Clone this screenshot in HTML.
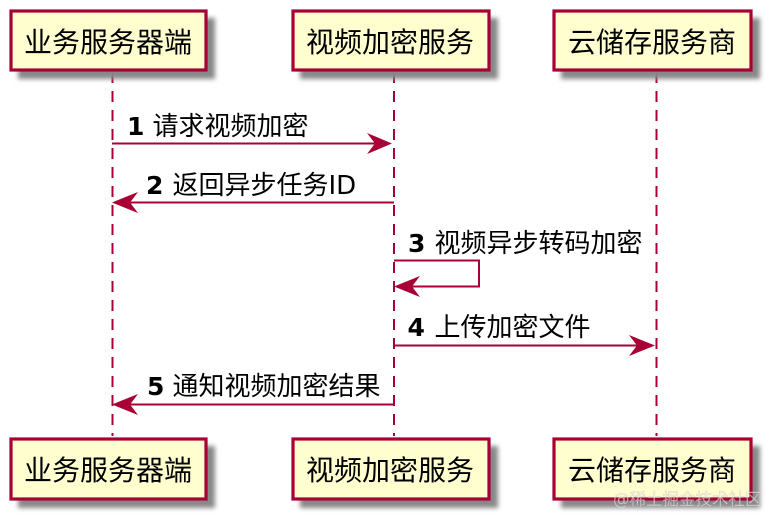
<!DOCTYPE html>
<html>
<head>
<meta charset="utf-8">
<style>
html,body{margin:0;padding:0;background:#fff;width:776px;height:525px;overflow:hidden}
svg{display:block;filter:blur(.35px)}
text{font-family:"DejaVu Sans","WenQuanYi Zen Hei","Noto Sans CJK SC",sans-serif;fill:#000}
.b{font-size:28px;text-anchor:middle}
.m{font-size:26px}
.n{font-size:25px;font-weight:bold}
</style>
</head>
<body>
<svg width="776" height="525" viewBox="0 0 776 525" xmlns="http://www.w3.org/2000/svg">
<defs><filter id="s" x="-20%" y="-40%" width="140%" height="180%"><feGaussianBlur stdDeviation="2.5"/></filter></defs>
<g stroke="#a80036" stroke-width="2" stroke-dasharray="11,8" fill="none">
<line x1="112.5" y1="72" x2="112.5" y2="436"/>
<line x1="394" y1="72" x2="394" y2="436"/>
<line x1="656.5" y1="72" x2="656.5" y2="436"/>
</g>
<g fill="#888" filter="url(#s)">
<rect x="18" y="18" width="197" height="61"/>
<rect x="300" y="18" width="198" height="61"/>
<rect x="561" y="18" width="199" height="61"/>
<rect x="18" y="446" width="197" height="62"/>
<rect x="300" y="446" width="198" height="62"/>
<rect x="561" y="446" width="199" height="62"/>
</g>
<g fill="#fefece" stroke="#a80036" stroke-width="3.2">
<rect x="11" y="11" width="195" height="59"/>
<rect x="293" y="11" width="196" height="59"/>
<rect x="554" y="11" width="197" height="59"/>
<rect x="11" y="439" width="195" height="60"/>
<rect x="293" y="439" width="196" height="60"/>
<rect x="554" y="439" width="197" height="60"/>
</g>
<text class="b" x="108" y="52">业务服务器端</text>
<text class="b" x="390" y="52">视频加密服务</text>
<text class="b" x="652" y="52">云储存服务商</text>
<text class="b" x="108" y="480">业务服务器端</text>
<text class="b" x="390" y="480">视频加密服务</text>
<text class="b" x="652" y="480">云储存服务商</text>
<g stroke="#a80036" stroke-width="2" fill="none">
<line x1="112" y1="143.5" x2="385" y2="143.5"/>
<line x1="122" y1="202.5" x2="394" y2="202.5"/>
<polyline points="394,260.5 479,260.5 479,286.5 404,286.5"/>
<line x1="394" y1="345.5" x2="646" y2="345.5"/>
<line x1="122" y1="404.5" x2="394" y2="404.5"/>
</g>
<g fill="#a80036">
<polygon points="392,143.5 367,133 375,143.5 367,154"/>
<polygon points="112,202.5 138,192 130,202.5 138,213"/>
<polygon points="394,286.5 420,276 412,286.5 420,297"/>
<polygon points="655,345.5 629,335 637,345.5 629,356"/>
<polygon points="112,404.5 138,394 130,404.5 138,415"/>
</g>
<text class="n" x="127" y="135">1</text><text class="m" x="152.500" y="135">请求视频加密</text>
<text class="n" x="146" y="194">2</text><text class="m" x="172.500" y="194">返回异步任务ID</text>
<text class="n" x="408" y="252">3</text><text class="m" x="434.500" y="252">视频异步转码加密</text>
<text class="n" x="407.500" y="336">4</text><text class="m" x="434.500" y="336">上传加密文件</text>
<text class="n" x="147" y="395">5</text><text class="m" x="172.500" y="395">通知视频加密结果</text>
<text x="613" y="505" style="font-size:16.500px;fill:#fff;fill-opacity:.55;stroke:#888;stroke-opacity:.35;stroke-width:.5">@稀土掘金技术社区</text>
</svg>
</body>
</html>
